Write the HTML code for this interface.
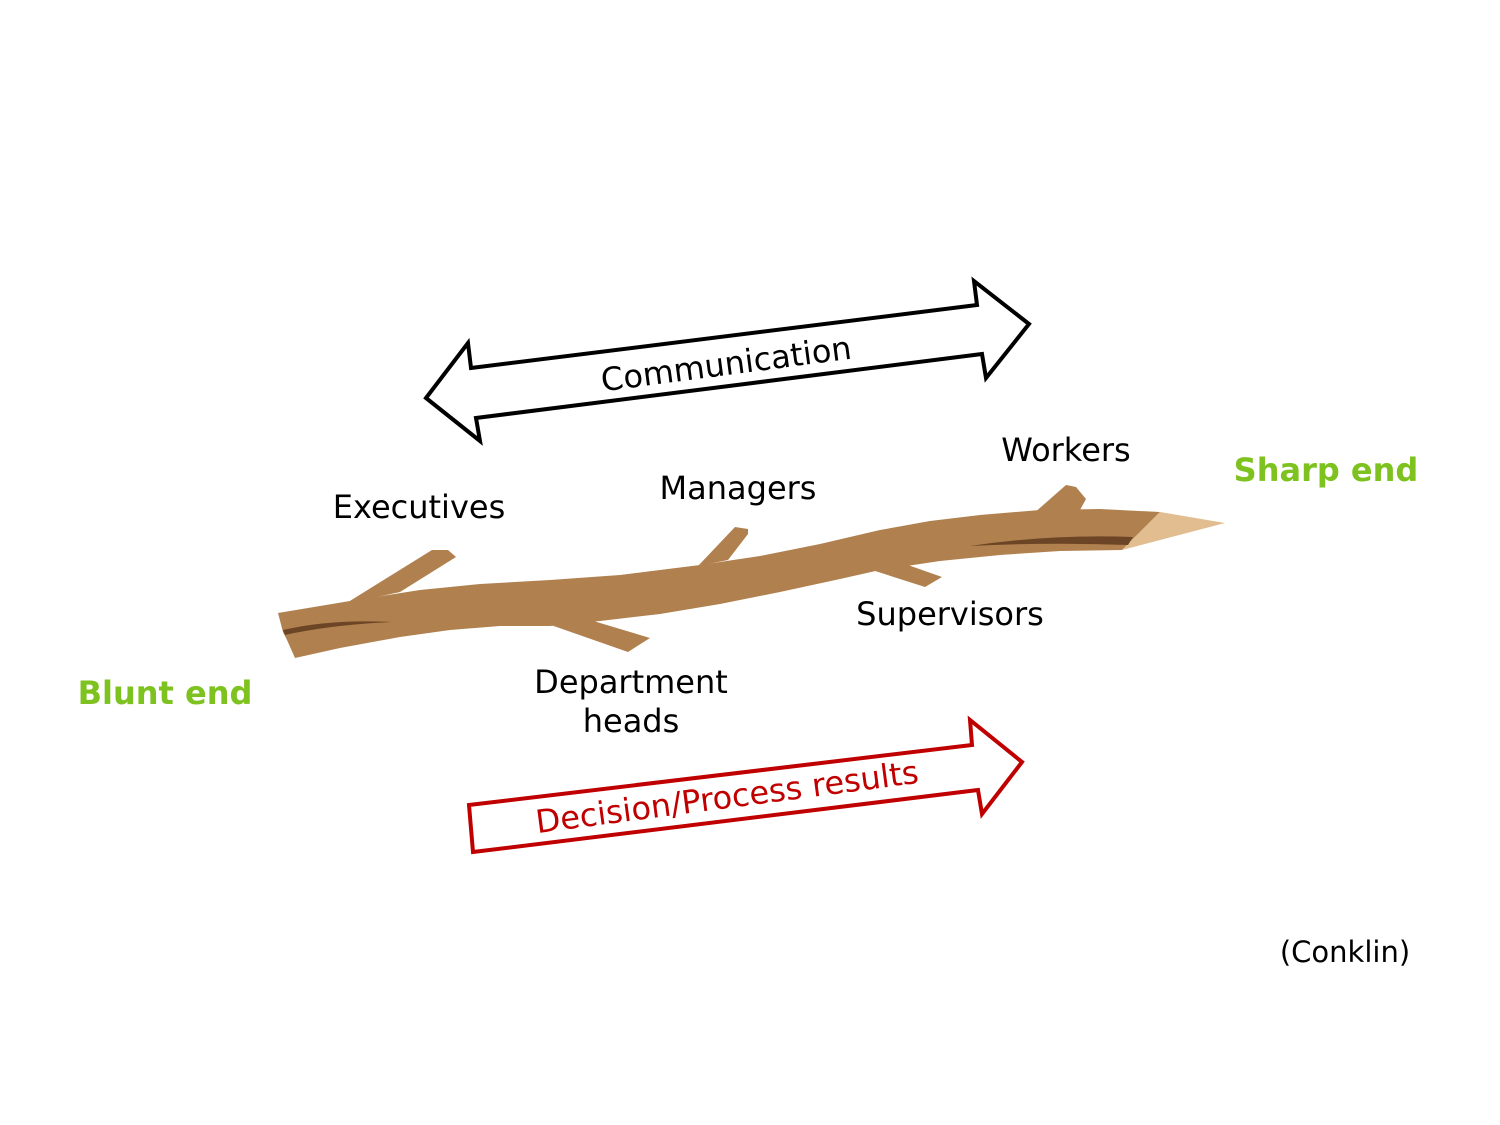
<!DOCTYPE html>
<html><head><style>
html,body{margin:0;padding:0;background:#fff;}
svg{display:block}
text{font-family:"DejaVu Sans","Liberation Sans",sans-serif;}
</style></head><body>
<svg width="1500" height="1125" viewBox="0 0 1500 1125" xmlns="http://www.w3.org/2000/svg">
<rect width="1500" height="1125" fill="#fff"/>
<polygon points="426,398 468,343 471,368 977,305 974,281 1029,324 986,378 982,354 476,418 480,441" fill="#fff" stroke="#000" stroke-width="4"/>
<text x="726" y="375" font-size="32" text-anchor="middle" transform="rotate(-7.5 726 363)">Communication</text>
<g fill="#b0804f">
<polygon points="278,613 350,601 420,590 480,584 550,580 620,575 700,565 760,556 820,544 880,530 930,521 980,515 1040,510 1100,509 1160,512 1122,550 1060,551 1000,555 940,561 880,570 840,579 780,592 720,604 660,614 600,621 550,626 500,626 450,630 400,637 340,648 295,658 287,640 283,632"/>
<path d="M345,604 L432,550 L448,550 L456,557 L400,592 Z"/>
<path d="M698,566 L735,527 L748,529 L748,534 L728,560 Z"/>
<path d="M1033,514 L1066,485 L1076,487 L1086,499 L1080,510 Z"/>
<path d="M548,624 L628,652 L650,638 L590,620 Z"/>
<path d="M872,570 L925,587 L942,577 L905,564 Z"/>
</g>
<polygon points="1122,550 1160,512 1225,523" fill="#e2bd90"/>
<path d="M283,630 Q330,619 392,622 Q330,625 285,635 Z" fill="#6b4525"/>
<path d="M970,546 Q1050,534 1133,537 L1128,545 Q1050,542 970,546 Z" fill="#6b4525"/>
<text x="419" y="518" font-size="32" text-anchor="middle">Executives</text>
<text x="738" y="499" font-size="32" text-anchor="middle">Managers</text>
<text x="1066" y="461" font-size="32" text-anchor="middle">Workers</text>
<text x="950" y="625" font-size="32" text-anchor="middle">Supervisors</text>
<text x="631" y="693" font-size="32" text-anchor="middle">Department</text>
<text x="631" y="732" font-size="32" text-anchor="middle">heads</text>
<text x="1326" y="481" font-size="32" font-weight="bold" fill="#7dc21e" text-anchor="middle">Sharp end</text>
<text x="165" y="704" font-size="32" font-weight="bold" fill="#7dc21e" text-anchor="middle">Blunt end</text>
<polygon points="469,805 972,745 970,720 1022,762 982,814 978,790 473,852" fill="#fff" stroke="#c00000" stroke-width="4"/>
<text x="727" y="808" font-size="32" fill="#c00000" text-anchor="middle" transform="rotate(-7.5 727 797)">Decision/Process results</text>
<text x="1345" y="962" font-size="29" text-anchor="middle">(Conklin)</text>
</svg>
</body></html>
